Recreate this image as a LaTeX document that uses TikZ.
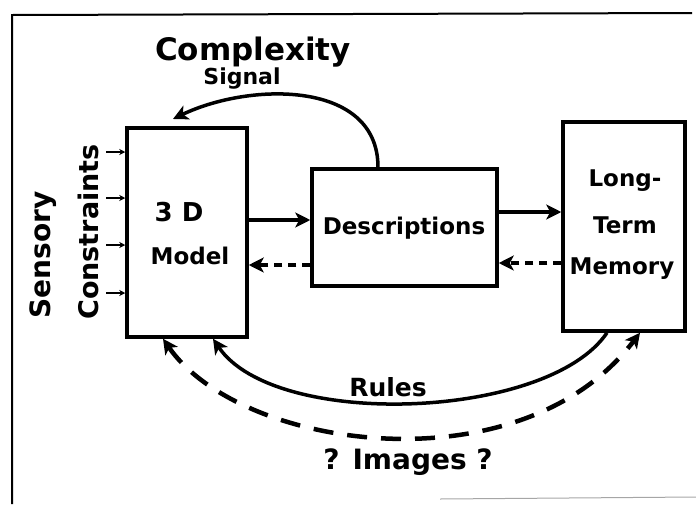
\documentclass[tikz,border=0pt]{standalone}
\usepackage{fontspec}
\setmainfont{DejaVu Sans}
\usetikzlibrary{arrows.meta,calc}
\begin{document}
\begin{tikzpicture}[x=1pt,y=-1pt,
  box/.style={draw, line width=3.5pt, inner sep=0pt},
  lbl/.style={font=\bfseries\fontsize{#1}{#1}\selectfont, inner sep=0pt},
  arr/.style={-{Stealth[length=15pt,width=15pt,inset=4pt]}},
  arrb/.style={{Stealth[length=15pt,width=15pt,inset=4pt]}-{Stealth[length=15pt,width=15pt,inset=4pt]}},
  conn/.style={line width=3.5pt},
  dconn/.style={line width=3.5pt, dash pattern=on 8pt off 6pt},
  bigdash/.style={line width=4.5pt, dash pattern=on 20pt off 14pt},
  small/.style={line width=1.8pt, -{Stealth[length=6pt,width=6pt]}}
]
\useasboundingbox (0,0) rectangle (696,504);
% frame
\draw[line width=2pt] (12,504) -- (12,15) -- (692,13);
\draw[line width=1pt, black!35] (440,499) -- (696,497);

% boxes
\node[box, minimum width=120pt, minimum height=209pt] (m) at (187,232.5) {};
\node[box, minimum width=185pt, minimum height=117pt] (d) at (404.5,227.5) {};
\node[box, minimum width=122pt, minimum height=209pt] (l) at (624,226.5) {};

% box texts
\node[lbl=26] (m1) at (179,212) {3 D};
\node[lbl=23] (m2) at (190,256) {Model};
\node[lbl=23] (d1) at (404,228) {Descriptions};
\node[lbl=23] (l1) at (625,181) {Long-};
\node[lbl=23] (l2) at (625,225) {Term};
\node[lbl=23] (l3) at (622,269) {Memory};

% labels
\node[lbl=31] (c1) at (253,52) {Complexity};
\node[lbl=22] (c2) at (242,79) {Signal};
\node[lbl=25] (r1) at (388,387) {Rules};
\node[lbl=28] (i1) at (408,462) {? Images ?};
\node[lbl=28, rotate=90] (s1) at (43,255) {Sensory};
\node[lbl=27, rotate=90] (s2) at (88,232) {Constraints};

% sensory arrows
\foreach \y [count=\i] in {152,198,245,293} {
  \coordinate (sa\i) at (106,\y);
  \draw[small] (sa\i) -- (m.west |- sa\i);
}

% horizontal connectors
\draw[conn, arr] (m.east |- 0,220) -- (d.west |- 0,220);
\draw[conn, arr] (d.east |- 0,212) -- (l.west |- 0,212);
\draw[dconn, arr] (d.west |- 0,265) -- (m.east |- 0,265);
\draw[dconn, arr] (l.west |- 0,263) -- (d.east |- 0,263);

% complexity signal
\coordinate (cs) at (173,119);
\draw[conn, arr] (d.north -| 378,0) .. controls (378,80) and (250,82) .. (cs);

% rules
\draw[conn, arr] (l.south -| 607,0) .. controls (548,420) and (275,430) .. (m.south -| 213,0);

% images
\draw[bigdash, arrb] (m.south -| 163,0) .. controls (240,450) and (520,490) .. (l.south -| 640,0);
\end{tikzpicture}
\end{document}
